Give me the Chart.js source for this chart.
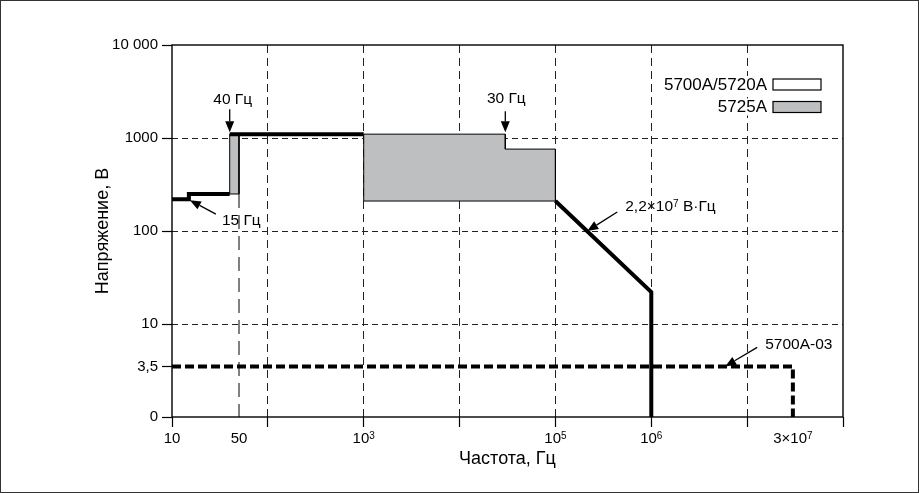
<!DOCTYPE html>
<html>
<head>
<meta charset="utf-8">
<title>Напряжение и частота</title>
<script src="https://cdn.jsdelivr.net/npm/chart.js@4.4.0/dist/chart.umd.min.js"></script>
<style>
  html, body { margin: 0; padding: 0; background: #fff; }
  canvas { display: block; }
</style>
</head>
<body>
<canvas id="chart" width="919" height="493"></canvas>
<script>
// tick values and labels (log axes; "0" stands at the bottom of the voltage axis)
// x labels are split into base text and superscript exponent
const xTickValues = [10, 50, 100, 1e3, 1e4, 1e5, 1e6, 1e7, 3e7, 1e8];
const xTickBase = ['10', '50', '', '10', '', '10', '10', '', '3×10', ''];
const xTickSup = ['', '', '', '3', '', '5', '6', '', '7', ''];
const yTickValues = [1, 3.5, 10, 100, 1000, 10000];
const yTickLabels = ['0', '3,5', '10', '100', '1000', '10 000'];

// 5700A/5720A limit, Hz / V (null breaks the line)
const calFreq = [10, 15, 15, 40, 40, 40, 1000, 1000, 1e5, 1e6, 1e6];
const calVolt = [220, 220, 250, 250, null, 1100, 1100, null, 210, 22, 1];

// 5725A amplifier areas
const ampLowFreq = [40, 40, 50, 50, 40];
const ampLowVolt = [250, 1100, 1100, 250, 250];
const ampHighFreq = [1e3, 3e4, 3e4, 1e5, 1e5, 1e3, 1e3];
const ampHighVolt = [1100, 1100, 760, 760, 210, 210, 1100];

// 5700A-03 option
const optFreq = [10, 3e7, 3e7];
const optVolt = [3.5, 3.5, 1];

// 50 Hz marker
const markFreq = [50, 50];
const markVolt = [250, 1];

const legendLabels = ['5700A/5720A', '5725A'];

const FONT = '"Liberation Sans", Arial, sans-serif';
const GRAY = '#bebfc1';

function toPoints(xs, ys) {
   return xs.map((x, i) => ({ x: x, y: ys[i] }));
}

function drawArrow(ctx, x1, y1, x2, y2) {
   const ang = Math.atan2(y2 - y1, x2 - x1);
   const headLen = 11, headW = 4.5;
   const bx = x2 - headLen * Math.cos(ang);
   const by = y2 - headLen * Math.sin(ang);
   ctx.beginPath();
   ctx.moveTo(x1, y1);
   ctx.lineTo(bx, by);
   ctx.lineWidth = 1.3;
   ctx.strokeStyle = '#000';
   ctx.stroke();
   ctx.beginPath();
   ctx.moveTo(x2, y2);
   ctx.lineTo(bx + headW * Math.sin(ang), by - headW * Math.cos(ang));
   ctx.lineTo(bx - headW * Math.sin(ang), by + headW * Math.cos(ang));
   ctx.closePath();
   ctx.fillStyle = '#000';
   ctx.fill();
}

// text with a raised exponent: base + sup + tail, baseline at y
function supText(ctx, x, y, base, sup, tail, size, align) {
   const supSize = Math.round(size * 0.66);
   ctx.font = size + 'px ' + FONT;
   const wBase = ctx.measureText(base).width;
   const wTail = tail ? ctx.measureText(tail).width : 0;
   ctx.font = supSize + 'px ' + FONT;
   const wSup = sup ? ctx.measureText(sup).width : 0;
   const total = wBase + wSup + wTail;
   let left = x;
   if (align === 'center') left = x - total / 2;
   ctx.textAlign = 'left';
   ctx.textBaseline = 'alphabetic';
   ctx.font = size + 'px ' + FONT;
   ctx.fillText(base, left, y);
   if (sup) {
      ctx.font = supSize + 'px ' + FONT;
      ctx.fillText(sup, left + wBase, y - size * 0.24);
   }
   if (tail) {
      ctx.font = size + 'px ' + FONT;
      ctx.fillText(tail, left + wBase + wSup, y);
   }
}

const extras = {
   id: 'extras',
   beforeDraw(chart) {
      const ctx = chart.ctx;
      ctx.save();
      ctx.fillStyle = '#fff';
      ctx.fillRect(0, 0, chart.width, chart.height);
      ctx.strokeStyle = '#333';
      ctx.lineWidth = 1;
      ctx.strokeRect(0.5, 0.5, chart.width - 1, chart.height - 1);
      ctx.restore();
   },
   afterDatasetsDraw(chart) {
      const ctx = chart.ctx;
      const xs = chart.scales.x, ys = chart.scales.y;
      const area = chart.chartArea;
      ctx.save();
      ctx.font = '15.5px ' + FONT;
      ctx.fillStyle = '#000';
      ctx.textBaseline = 'middle';

      // 40 Hz
      let px = xs.getPixelForValue(40), py = ys.getPixelForValue(1100);
      drawArrow(ctx, px, py - 25, px, py - 2);
      ctx.textAlign = 'center';
      ctx.fillText('40 Гц', px + 3, py - 34);

      // 30 Hz
      px = xs.getPixelForValue(3e4);
      drawArrow(ctx, px, py - 23, px, py - 2);
      ctx.fillText('30 Гц', px + 1, py - 35);

      // 15 Hz
      px = xs.getPixelForValue(15); py = ys.getPixelForValue(220) + 1;
      drawArrow(ctx, px + 27, py + 14, px + 1, py);
      ctx.textAlign = 'left';
      ctx.fillText('15 Гц', px + 33, py + 21);

      // 5700A-03
      px = xs.getPixelForValue(5.9e6); py = ys.getPixelForValue(3.5);
      drawArrow(ctx, px + 32, py - 19, px, py);
      ctx.fillText('5700A-03', px + 40, py - 22);

      // V*Hz limit
      px = xs.getPixelForValue(2.2e5); py = ys.getPixelForValue(100);
      drawArrow(ctx, px + 29, py - 19, px - 1, py);
      supText(ctx, px + 37, py - 20.5, '2,2×10', '7', ' В·Гц', 15.5, 'left');

      // frequency tick labels
      xTickValues.forEach((v, i) => {
         if (!xTickBase[i]) return;
         supText(ctx, xs.getPixelForValue(v), area.bottom + 26, xTickBase[i], xTickSup[i], '', 15, 'center');
      });

      // legend
      ctx.font = '17px ' + FONT;
      ctx.textAlign = 'right';
      ctx.textBaseline = 'middle';
      const fills = ['#fff', GRAY];
      legendLabels.forEach((label, i) => {
         const bx = area.right - 70, by = area.top + 34 + i * 22.5;
         const w = ctx.measureText(label).width;
         ctx.fillStyle = '#fff';
         ctx.fillRect(bx - 8 - w, by - 3, w + 6, 17);
         ctx.fillStyle = fills[i];
         ctx.fillRect(bx, by, 48, 11);
         ctx.strokeStyle = '#000';
         ctx.lineWidth = 1.2;
         ctx.strokeRect(bx, by, 48, 11);
         ctx.fillStyle = '#000';
         ctx.fillText(label, bx - 6, by + 6);
      });
      ctx.restore();
   },
   afterDraw(chart) {
      const ctx = chart.ctx;
      const a = chart.chartArea;
      ctx.save();
      ctx.strokeStyle = '#000';
      ctx.lineWidth = 1.4;
      ctx.strokeRect(a.left, a.top, a.right - a.left, a.bottom - a.top);
      ctx.restore();
   }
};

const xGrid = [1e2, 1e3, 1e4, 1e5, 1e6, 1e7];
const yGrid = [10, 100, 1000];

new Chart(document.getElementById('chart'), {
   type: 'scatter',
   data: {
      datasets: [
         {
            label: '5700A/5720A',
            data: toPoints(calFreq, calVolt),
            showLine: true,
            borderColor: '#000',
            borderWidth: 4,
            pointRadius: 0,
            fill: false
         },
         {
            label: '5700A-03',
            data: toPoints(optFreq, optVolt),
            showLine: true,
            borderColor: '#000',
            borderWidth: 4,
            borderDash: [9, 4],
            pointRadius: 0,
            fill: false
         },
         {
            label: '50 Гц',
            data: toPoints(markFreq, markVolt),
            showLine: true,
            borderColor: '#000',
            borderWidth: 1,
            borderDash: [14, 7],
            pointRadius: 0,
            fill: false
         },
         {
            label: '5725A',
            data: toPoints(ampHighFreq, ampHighVolt),
            showLine: true,
            borderColor: '#000',
            borderWidth: 1,
            backgroundColor: GRAY,
            pointRadius: 0,
            fill: 'shape'
         },
         {
            label: '5725A (40 Гц)',
            data: toPoints(ampLowFreq, ampLowVolt),
            showLine: true,
            borderColor: '#000',
            borderWidth: 1,
            backgroundColor: GRAY,
            pointRadius: 0,
            fill: 'shape'
         }
      ]
   },
   options: {
      responsive: false,
      animation: false,
      devicePixelRatio: 1,
      layout: { padding: { left: 92, right: 76, top: 45, bottom: 23 } },
      plugins: {
         legend: { display: false },
         tooltip: { enabled: false }
      },
      scales: {
         x: {
            type: 'logarithmic',
            min: 10,
            max: 1e8,
            afterBuildTicks: axis => { axis.ticks = xTickValues.map(v => ({ value: v })); },
            afterFit: axis => { axis.height = 53; },
            ticks: {
               display: false,
               autoSkip: false,
               maxRotation: 0
            },
            grid: {
               color: c => (c.tick && xGrid.includes(c.tick.value)) ? '#222' : 'rgba(0,0,0,0)',
               tickColor: c => (c.tick && (c.tick.value === 50 || c.tick.value === 3e7)) ? 'rgba(0,0,0,0)' : '#000',
               lineWidth: 1,
               tickLength: 10,
               tickWidth: 1.2
            },
            border: { display: false, dash: [8, 5] },
            title: {
               display: true,
               text: 'Частота, Гц',
               color: '#000',
               font: { family: FONT, size: 18 },
               padding: 0
            }
         },
         y: {
            type: 'logarithmic',
            min: 1,
            max: 10000,
            afterBuildTicks: axis => { axis.ticks = yTickValues.map(v => ({ value: v })); },
            afterFit: axis => { axis.width = 80; },
            ticks: {
               autoSkip: false,
               padding: 4,
               color: '#000',
               font: { family: FONT, size: 15 },
               callback: value => {
                  const i = yTickValues.indexOf(value);
                  return i >= 0 ? yTickLabels[i] : '';
               }
            },
            grid: {
               color: c => (c.tick && yGrid.includes(c.tick.value)) ? '#222' : 'rgba(0,0,0,0)',
               tickColor: '#000',
               lineWidth: 1,
               tickLength: 10,
               tickWidth: 1.2
            },
            border: { display: false, dash: [6, 4] },
            title: {
               display: true,
               text: 'Напряжение, В',
               color: '#000',
               font: { family: FONT, size: 18 },
               padding: 0
            }
         }
      }
   },
   plugins: [extras]
});
</script>
</body>
</html>
